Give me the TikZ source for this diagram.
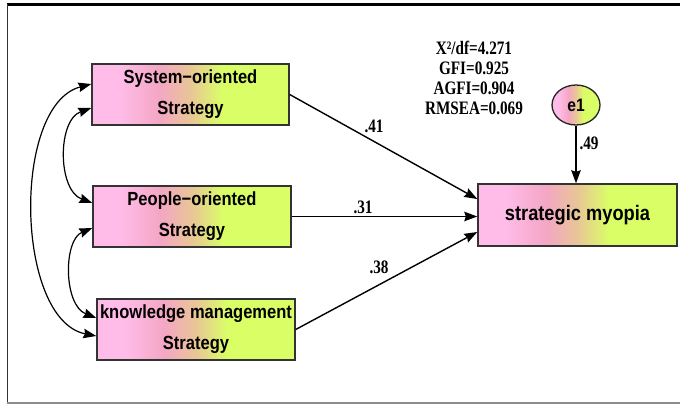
\documentclass[tikz,border=0pt]{standalone}
\usepackage{fontspec}
\usetikzlibrary{arrows.meta,shapes.geometric}

% condensed faces for the variable labels and the statistics
\newfontfamily\labelsans[FakeStretch=0.87]{Liberation Sans}
\newfontfamily\statserif[FakeStretch=0.8]{Liberation Serif}

\definecolor{gPink}{RGB}{255,188,232}
\definecolor{gRose}{RGB}{244,166,196}
\definecolor{gTan}{RGB}{232,198,150}
\definecolor{gLime}{RGB}{218,255,102}

% pink -> tan -> lime fill of the variables
\pgfdeclarehorizontalshading{semgrad}{100bp}{%
  color(0bp)=(gPink); color(32bp)=(gPink); color(42bp)=(gRose);
  color(50bp)=(gTan); color(58bp)=(gLime); color(100bp)=(gLime)}

\tikzset{
  varbox/.style={draw=black!80, line width=1.4pt, shade, shading=semgrad,
    minimum width=198pt, minimum height=61pt, inner sep=0pt, align=center,
    font=\labelsans\bfseries\fontsize{19}{31}\selectfont},
  errvar/.style={ellipse, draw=black!85, line width=1.3pt, shade, shading=semgrad,
    minimum width=48pt, minimum height=40pt, inner sep=0pt,
    font=\labelsans\bfseries\fontsize{18}{20}\selectfont},
  regarrow/.style={line width=1.4pt, -{Stealth[length=13pt,width=9.5pt,inset=1.5pt]}},
  covarrow/.style={line width=1.2pt,
    {Stealth[length=13pt,width=9.5pt,inset=1.5pt]}-{Stealth[length=13pt,width=9.5pt,inset=1.5pt]}},
  coef/.style={font=\statserif\bfseries\fontsize{19}{20}\selectfont, inner sep=0pt},
  fitstat/.style={font=\statserif\bfseries\fontsize{19}{20}\selectfont, align=center, inner sep=0pt},
}

\begin{document}
\begin{tikzpicture}[x=1pt,y=-1pt]
\useasboundingbox (0,0) rectangle (680,405);

% frame
\draw[line width=2.2pt] (7,4.5) -- (680,4.5);
\draw[line width=1pt, black!80] (7.5,4) -- (7.5,403);
\draw[line width=2pt, black!45] (7,403) -- (680,403);

% variables
\node[varbox, minimum width=197pt] (sys) at (190.5,94.5) {System−oriented\\Strategy};
\node[varbox] (ppl) at (192,216.5) {People−oriented\\Strategy};
\node[varbox] (km) at (196,329.5) {knowledge management\\Strategy};
\node[varbox, minimum width=199pt, minimum height=62pt,
      font=\labelsans\bfseries\fontsize{21}{24}\selectfont] (myo) at (577.5,215) {strategic myopia};
\node[errvar] (e1) at (576,105) {e1};

% regression paths
\draw[regarrow] (sys.east) -- ([yshift=16pt]myo.west);
\draw[regarrow] (ppl.east) -- (ppl.east -| myo.west);
\draw[regarrow] (km.east) -- ([yshift=-17pt]myo.west);
\draw[regarrow] (e1.south) -- (e1.south |- myo.north);

% covariances
\draw[covarrow] ([yshift=10.5pt]sys.west) .. controls +(-80,21) and +(-81,-16) .. ([yshift=-6.5pt]km.west);
\draw[covarrow] ([yshift=-13.5pt]sys.west) .. controls +(-34,12) and +(-35,-13) .. ([yshift=13.5pt]ppl.west);
\draw[covarrow] ([yshift=-11.5pt]ppl.west) .. controls +(-29,12) and +(-33,-13) .. ([yshift=11.5pt]km.west);

% coefficients
\node[coef] (c41) at (374,126) {.41};
\node[coef] (c31) at (363,207) {.31};
\node[coef] (c38) at (379,267) {.38};
\node[coef] (c49) at (589,143) {.49};

% fit indices
\node[fitstat] (fit) at (474,78) {X²/df=4.271\\GFI=0.925\\AGFI=0.904\\RMSEA=0.069};
\end{tikzpicture}
\end{document}
